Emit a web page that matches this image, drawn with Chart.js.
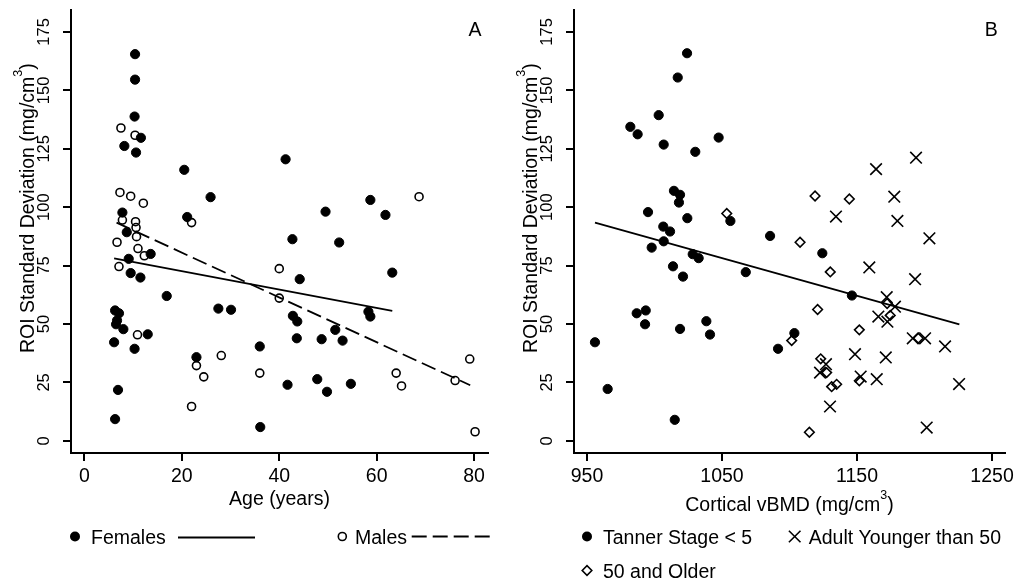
<!DOCTYPE html>
<html><head><meta charset="utf-8">
<script src="https://cdn.jsdelivr.net/npm/chart.js@4.4.1/dist/chart.umd.min.js"></script>
<style>
html,body{margin:0;padding:0;background:#fff;}
#wrap{position:relative;width:1017px;height:583px;overflow:hidden;background:#fff;}
#cA{position:absolute;left:0;top:0;}
#cB{position:absolute;left:508px;top:0;}
</style></head><body>
<div id="wrap"><canvas id="cA" width="508" height="583"></canvas><canvas id="cB" width="509" height="583"></canvas></div>
<script>
// ---------- data ----------
const sdTicks = [0, 25, 50, 75, 100, 125, 150, 175];
const ageTicks = [0, 20, 40, 60, 80];
const bmdTicks = [950, 1050, 1150, 1250];

const femaleAge = [10.4,10.4,10.3,11.6,8.2,10.6,20.5,25.9,7.8,21.1,8.7,13.6,9.1,9.5,11.5,16.9,6.3,7.1,6.7,6.5,8.0,13.0,6.1,10.3,6.9,6.3,27.5,30.1,23.0,36.1,44.2,41.3,58.7,49.5,61.8,42.7,52.3,63.2,42.8,43.7,58.3,58.7,51.5,53.0,43.6,48.7,36.0,41.7,47.8,49.8,54.7];
const femaleSD  = [165.5,154.6,138.8,129.7,126.2,123.4,116.0,104.3,97.7,95.8,89.3,80.0,77.9,71.8,69.9,62.0,55.8,54.6,51.5,49.9,47.8,45.6,42.2,39.4,21.8,9.3,56.6,56.1,35.8,5.9,69.2,120.5,103.1,98.1,96.7,86.3,84.9,72.0,53.5,51.1,55.3,53.2,47.5,42.9,43.9,43.5,40.4,24.0,26.4,21.0,24.4];

const maleAge = [7.5,10.4,7.3,9.5,12.1,7.8,10.5,10.6,10.7,6.7,11.0,12.3,7.1,22.0,10.9,23.0,24.5,22.0,28.1,40.0,68.7,40.0,36.0,64.0,65.1,76.1,79.1,80.2];
const maleSD  = [133.9,130.8,106.3,104.7,101.7,94.5,93.8,91.3,87.4,85.0,82.3,79.2,74.6,93.4,45.4,32.2,27.4,14.7,36.5,73.7,104.5,61.1,29.0,29.0,23.5,25.8,35.0,3.9];

const femaleFitAge = [6.1, 63.2];
const femaleFitSD  = [78.1, 55.6];
const maleFitAge = [6.6, 79.2];
const maleFitSD  = [93.4, 23.8];

const tannerBMD = [1024.1,1017.2,1003.1,982.1,987.5,1047.5,1006.8,1030.2,1014.4,1018.9,1018.1,995.2,1024.3,1056.2,1006.5,1011.5,1006.8,997.9,1028.3,1032.7,1013.7,1021.1,1067.6,1085.6,1124.3,1146.2,1103.6,1091.5,955.9,965.3,986.8,993.5,993.0,1018.9,1038.4,1041.1,1015.0];
const tannerSD  = [165.9,155.5,139.4,134.4,131.2,129.8,126.8,123.7,107.0,105.3,102.0,97.9,95.3,94.1,91.7,89.6,85.4,82.7,79.9,78.2,74.7,70.3,72.2,87.7,80.3,62.2,46.1,39.4,42.2,22.2,54.6,55.8,49.9,47.9,51.2,45.5,9.0];

const adultBMD = [1193.7,1164.1,1177.6,1134.4,1179.9,1203.6,1159.1,1193.0,1172.0,1178.1,1165.8,1172.5,1191.3,1200.4,1215.2,1148.5,1171.3,1127.0,1122.6,1152.7,1164.6,1225.6,1130.0,1201.6];
const adultSD  = [121.2,116.3,104.5,96.0,94.1,86.7,74.2,69.2,61.5,57.4,53.2,51.0,43.9,43.9,40.4,37.1,35.7,32.8,29.2,27.5,26.4,24.3,14.7,5.7];

const olderBMD = [1053.5,1118.9,1144.3,1107.8,1130.2,1120.8,1172.3,1151.7,1101.6,1123.1,1127.5,1131.2,1134.9,1151.7,1114.7,1174.6,1195.4];
const olderSD  = [97.3,104.8,103.5,85.0,72.3,56.2,58.8,47.5,42.9,35.1,29.2,23.2,24.2,25.7,3.7,53.7,43.9];

const bmdFitX  = [955.9, 1225.8];
const bmdFitSD = [93.4, 49.9];

// ---------- helpers ----------
const FAM = '"Liberation Sans", Arial, Helvetica, sans-serif';
const MAIN = 19.5, SUP = 12.5, RAISE = 11.5;
Chart.defaults.font.family = FAM;
Chart.defaults.color = '#000';

function pts(xs, ys) { return xs.map((x, i) => ({x: x, y: ys[i]})); }

function gridOpts() {
  return {display: true, drawOnChartArea: false, drawTicks: true, tickLength: 8, color: '#000', lineWidth: 2};
}
function xAxis(min, max, ticks) {
  return {
    type: 'linear', position: 'bottom', min: min, max: max,
    afterBuildTicks: s => { s.ticks = ticks.map(v => ({value: v})); },
    afterFit: s => { s.height = 130; s.paddingLeft = 0; s.paddingRight = 0; },
    grid: gridOpts(),
    border: {display: true, color: '#000', width: 2},
    ticks: {font: {size: MAIN}, color: '#000', padding: 4, minRotation: 0, maxRotation: 0, autoSkip: false,
            callback: v => String(v)}
  };
}
function yAxis(w) {
  return {
    type: 'linear', position: 'left', min: -5.2, max: 184.4,
    afterBuildTicks: s => { s.ticks = sdTicks.map(v => ({value: v})); },
    afterFit: s => { s.width = w; s.paddingTop = 0; s.paddingBottom = 0; },
    grid: gridOpts(),
    border: {display: true, color: '#000', width: 2},
    ticks: {font: {size: 16.5}, color: '#000', padding: 4.4, minRotation: 90, maxRotation: 90, crossAlign: 'center', autoSkip: false,
            callback: v => String(v)}
  };
}

function drawParts(ctx, parts, x, y, align) {
  const widths = parts.map(p => { ctx.font = (p[1] ? SUP : MAIN) + 'px ' + FAM; return ctx.measureText(p[0]).width; });
  const total = widths.reduce((a, b) => a + b, 0);
  let cx = align === 'center' ? x - total / 2 : x;
  ctx.textAlign = 'left';
  ctx.textBaseline = 'alphabetic';
  parts.forEach((p, i) => {
    ctx.font = (p[1] ? SUP : MAIN) + 'px ' + FAM;
    ctx.fillText(p[0], cx, p[1] ? y - RAISE : y);
    cx += widths[i];
  });
}
function text(ctx, s, x, y, align) {
  ctx.font = MAIN + 'px ' + FAM;
  ctx.textAlign = align || 'left';
  ctx.textBaseline = 'alphabetic';
  ctx.fillText(s, x, y);
}
function symCircle(ctx, x, y, filled) {
  ctx.beginPath();
  if (filled) { ctx.arc(x, y, 5, 0, Math.PI * 2); ctx.fill(); }
  else { ctx.lineWidth = 1.6; ctx.arc(x, y, 4, 0, Math.PI * 2); ctx.stroke(); }
}
function symCross(ctx, x, y) {
  const h = 5.8;
  ctx.lineWidth = 1.6;
  ctx.beginPath();
  ctx.moveTo(x - h, y - h); ctx.lineTo(x + h, y + h);
  ctx.moveTo(x + h, y - h); ctx.lineTo(x - h, y + h);
  ctx.stroke();
}
function symDiamond(ctx, x, y) {
  const r = 4.8;
  ctx.lineWidth = 1.6;
  ctx.beginPath();
  ctx.moveTo(x - r, y); ctx.lineTo(x, y - r); ctx.lineTo(x + r, y); ctx.lineTo(x, y + r);
  ctx.closePath(); ctx.stroke();
}
function hline(ctx, x1, x2, y, dash) {
  ctx.lineWidth = 1.8;
  ctx.setLineDash(dash || []);
  ctx.beginPath(); ctx.moveTo(x1, y); ctx.lineTo(x2, y); ctx.stroke();
  ctx.setLineDash([]);
}
const yTitleParts = [['ROI Standard Deviation (mg/cm', 0], ['3', 1], [')', 0]];
function yTitle(ctx, bx) {
  ctx.save();
  ctx.translate(bx, 353);
  ctx.rotate(-Math.PI / 2);
  drawParts(ctx, yTitleParts, 0, 0, 'left');
  ctx.restore();
}

const common = {
  responsive: false, animation: false, events: [],
  plugins: {legend: {display: false}, tooltip: {enabled: false}}
};

function fitDS(data, dash) {
  return {data: data, showLine: true, pointRadius: 0, borderColor: '#000', borderWidth: 1.8, borderDash: dash || [], fill: false};
}

// ---------- Panel A ----------
new Chart(document.getElementById('cA'), {
  type: 'scatter',
  data: {datasets: [
    fitDS(pts(femaleFitAge, femaleFitSD)),
    fitDS(pts(maleFitAge, maleFitSD), [15, 6]),
    {label: 'Females', data: pts(femaleAge, femaleSD), pointStyle: 'circle', pointRadius: 4.6, backgroundColor: '#000', borderColor: '#000', borderWidth: 1},
    {label: 'Males', data: pts(maleAge, maleSD), pointStyle: 'circle', pointRadius: 4, backgroundColor: 'rgba(255,255,255,0)', borderColor: '#000', borderWidth: 1.6}
  ]},
  options: Object.assign({}, common, {
    layout: {padding: {left: 0, right: 20, top: 10, bottom: 0}},
    scales: {x: xAxis(-2.75, 82.85, ageTicks), y: yAxis(71)}
  }),
  plugins: [{id: 'decoA', afterDraw(chart) {
    const ctx = chart.ctx, a = chart.chartArea;
    ctx.save();
    ctx.fillStyle = '#000'; ctx.strokeStyle = '#000';
    text(ctx, 'A', 475, 36, 'center');
    text(ctx, 'Age (years)', (a.left + a.right) / 2, 504.5, 'center');
    yTitle(ctx, 33.5);
    symCircle(ctx, 75, 536.5, true);
    text(ctx, 'Females', 91, 543.5);
    hline(ctx, 178, 255, 537.5);
    symCircle(ctx, 342.3, 536.5, false);
    text(ctx, 'Males', 355, 543.5);
    hline(ctx, 411.7, 490, 536.5, [15, 6]);
    ctx.restore();
  }}]
});

// ---------- Panel B ----------
new Chart(document.getElementById('cB'), {
  type: 'scatter',
  data: {datasets: [
    fitDS(pts(bmdFitX, bmdFitSD)),
    {label: 'Tanner Stage < 5', data: pts(tannerBMD, tannerSD), pointStyle: 'circle', pointRadius: 4.6, backgroundColor: '#000', borderColor: '#000', borderWidth: 1},
    {label: 'Adult Younger than 50', data: pts(adultBMD, adultSD), pointStyle: 'crossRot', pointRadius: 8.2, backgroundColor: '#000', borderColor: '#000', borderWidth: 1.6},
    {label: '50 and Older', data: pts(olderBMD, olderSD), pointStyle: 'rectRot', pointRadius: 4.8, backgroundColor: 'rgba(255,255,255,0)', borderColor: '#000', borderWidth: 1.6}
  ]},
  options: Object.assign({}, common, {
    layout: {padding: {left: 0, right: 12, top: 10, bottom: 0}},
    scales: {x: xAxis(940.37, 1259.6, bmdTicks), y: yAxis(66)}
  }),
  plugins: [{id: 'decoB', afterDraw(chart) {
    const ctx = chart.ctx, a = chart.chartArea;
    ctx.save();
    ctx.fillStyle = '#000'; ctx.strokeStyle = '#000';
    text(ctx, 'B', 483.3, 36, 'center');
    drawParts(ctx, [['Cortical vBMD (mg/cm', 0], ['3', 1], [')', 0]], (a.left + a.right) / 2, 510.5, 'center');
    yTitle(ctx, 28.5);
    symCircle(ctx, 79, 536.5, true);
    text(ctx, 'Tanner Stage < 5', 95, 543.5);
    symCross(ctx, 286.7, 536.5);
    text(ctx, 'Adult Younger than 50', 300.7, 543.5);
    symDiamond(ctx, 79, 570.5);
    text(ctx, '50 and Older', 95, 578);
    ctx.restore();
  }}]
});
</script>
</body></html>
